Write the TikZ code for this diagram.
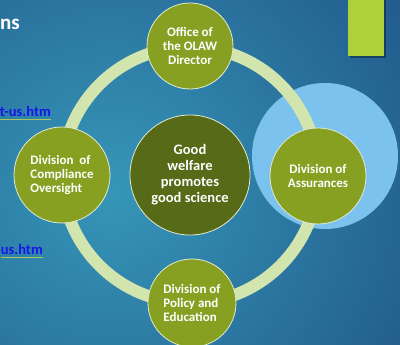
\documentclass[tikz,border=0pt]{standalone}
\usepackage{fontspec}
\setmainfont{Carlito}
\definecolor{bgteal}{RGB}{54,150,184}
\definecolor{bgnavy}{RGB}{16,40,102}
\definecolor{unitgreen}{RGB}{135,160,34}
\definecolor{hubgreen}{RGB}{86,106,24}
\definecolor{ringgreen}{RGB}{211,229,174}
\definecolor{ringedge}{RGB}{226,234,208}
\definecolor{skyblue}{RGB}{124,194,238}
\definecolor{accent}{RGB}{173,209,56}
\definecolor{linkblue}{RGB}{22,22,232}
\definecolor{linkline}{RGB}{170,196,96}
\begin{document}
\begin{tikzpicture}[x=1pt,y=-1pt,
  unit/.style={circle,draw=ringedge,line width=0.8pt,fill=unitgreen,text=white,
    inner sep=0pt,align=center,font=\bfseries\fontsize{13}{14}\selectfont},
  hubnode/.style={unit,fill=hubgreen,font=\bfseries\fontsize{14.5}{16}\selectfont},
  link/.style={anchor=base east,inner sep=0pt,text=linkblue,
    font=\bfseries\fontsize{14.5}{16}\selectfont}]
\clip (0,0) rectangle (400,345);
\shade[inner color=bgteal,outer color=bgnavy] (110,190) circle (650pt);
\fill[black,opacity=0.35] (350,0) rectangle (386,58);
\fill[accent] (348,0) rectangle (384,56);
\fill[skyblue] (325,156) circle (73pt);
\coordinate (hub) at (190,175);
\draw[ringgreen,line width=12pt] (hub) circle (128pt);
\node[hubnode,minimum size=120pt] (good) at (hub) {Good\\welfare\\promotes\\good science};
\node[unit,minimum size=86pt] (olaw) at (190,46) {Office of\\the OLAW\\Director};
\node[unit,minimum size=96pt,align=left] (dco) at (62,175) {Division~ of\\Compliance\\Oversight};
\node[unit,minimum size=96pt] (doa) at (318,176) {Division of\\Assurances};
\node[unit,minimum size=88pt,align=left] (dpe) at (192,303) {Division of\\Policy and\\Education};
\node[anchor=base west,inner sep=0pt,text=white,font=\bfseries\fontsize{21}{24}\selectfont] (title) at (0,30) {ns};
\node[link] (lnka) at (51,117) {t-us.htm};
\node[link] (lnkb) at (43,255) {us.htm};
\draw[linkline,line width=1pt] ([yshift=-2.5pt]lnka.base west) -- ([yshift=-2.5pt]lnka.base east);
\draw[linkline,line width=1pt] ([yshift=-2.5pt]lnkb.base west) -- ([yshift=-2.5pt]lnkb.base east);
\end{tikzpicture}
\end{document}
